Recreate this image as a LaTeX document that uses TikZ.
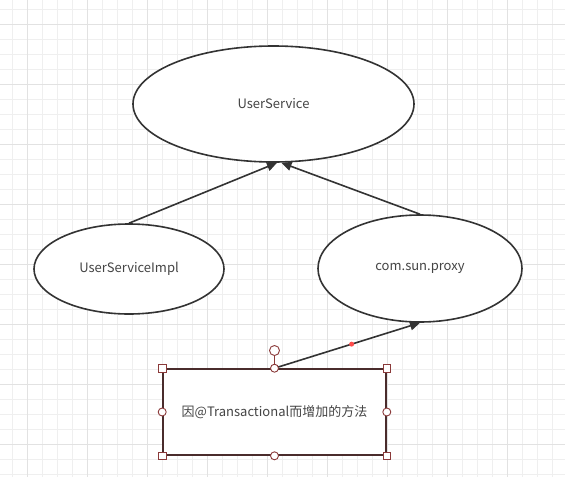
\documentclass[tikz,border=0pt]{standalone}
\usepackage{fontspec}
\newfontfamily\cjk{Noto Sans CJK SC}
\usetikzlibrary{shapes.geometric,arrows.meta,calc}
\definecolor{gridminor}{HTML}{EFEFEF}
\definecolor{gridmajor}{HTML}{E2E2E2}
\definecolor{edgec}{HTML}{333333}
\definecolor{handlec}{HTML}{8B3A3A}
\definecolor{boxc}{HTML}{4A2C2C}
\definecolor{txtc}{HTML}{444444}
\tikzset{
  ell/.style={ellipse, draw=edgec, line width=1.6pt, fill=white, inner sep=0pt, font=\cjk\fontsize{13}{15}\selectfont, text=txtc},
  conn/.style={draw=edgec, line width=1.6pt, -{Triangle[length=10pt,width=9pt]}},
  sqh/.style={rectangle, draw=handlec, fill=white, line width=0.9pt, minimum size=7.5pt, inner sep=0pt},
  cih/.style={circle, draw=handlec, fill=white, line width=0.9pt, minimum size=8pt, inner sep=0pt},
}
\begin{document}
\begin{tikzpicture}[x=1pt,y=-1pt]
\useasboundingbox (0,0) rectangle (565,477);
\fill[white] (0,0) rectangle (565,477);
% grid
\foreach \x in {12,27,...,565} {\draw[gridminor, line width=0.8pt] (\x,0) -- (\x,477);}
\foreach \y in {9,24,...,477} {\draw[gridminor, line width=0.8pt] (0,\y) -- (565,\y);}
\foreach \x in {27,87,...,565} {\draw[gridmajor, line width=0.8pt] (\x,0) -- (\x,477);}
\foreach \y in {24,84,...,477} {\draw[gridmajor, line width=0.8pt] (0,\y) -- (565,\y);}
% nodes
\node[ell, minimum width=281pt, minimum height=116pt] (us) at (273.5,104) {UserService};
\node[ell, minimum width=190pt, minimum height=90pt] (impl) at (129,269) {UserServiceImpl};
\node[ell, minimum width=204pt, minimum height=107pt] (proxy) at (420,268.5) {com.sun.proxy};
\node[rectangle, draw=boxc, line width=1.6pt, fill=white, minimum width=223pt, minimum height=86pt, inner sep=0pt, font=\cjk\fontsize{13}{15}\selectfont, text=txtc] (box) at (274.5,412) {因@Transactional而增加的方法};
% connectors
\draw[conn] (impl.north) -- ($(us.south)+(3.5,0)$);
\draw[conn] (proxy.north) -- ($(us.south)+(8,0)$);
\draw[conn] (box.north) -- (proxy.south);
\fill[red!70!white] ($(box.north)!0.53!(proxy.south)$) circle (2.5pt);
% selection handles
\node[cih, minimum size=10pt] (rot) at (274.5,350.5) {};
\draw[handlec, line width=0.9pt] (rot.south) -- (box.north);
\node[sqh] at (box.north west) {};
\node[sqh] at (box.north east) {};
\node[sqh] at (box.south west) {};
\node[sqh] at (box.south east) {};
\node[cih] at (box.north) {};
\node[cih] at (box.south) {};
\node[cih] at (box.west) {};
\node[cih] at (box.east) {};
\end{tikzpicture}
\end{document}
